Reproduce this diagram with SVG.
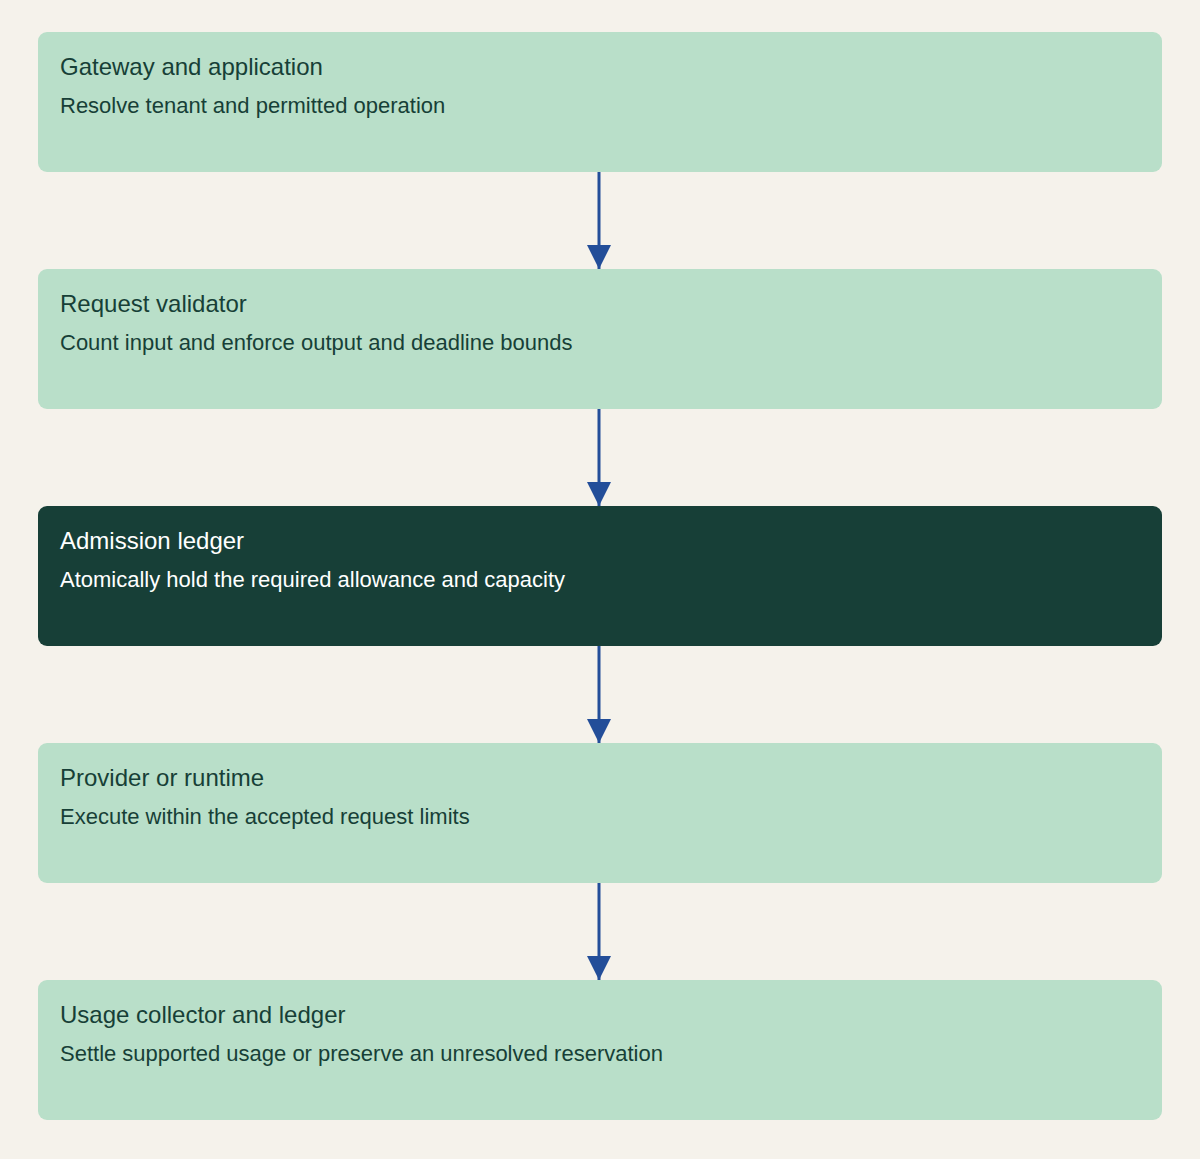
<svg xmlns="http://www.w3.org/2000/svg" width="1200" height="1159" viewBox="0 0 1200 1159">
<style>
.box{fill:#b9dfc9}
.dark{fill:#173f37}
.t{font-family:"Liberation Sans",Arial,sans-serif;font-size:24px;fill:#173f37}
.s{font-family:"Liberation Sans",Arial,sans-serif;font-size:22px;fill:#173f37}
.w{fill:#ffffff}
.c{stroke:#234e99;stroke-width:3;fill:none;marker-end:url(#a)}
</style>
<defs><marker id="a" markerUnits="userSpaceOnUse" markerWidth="26" markerHeight="26" refX="24" refY="12" orient="auto"><path d="M0,0 L24,12 L0,24 Z" fill="#234e99"/></marker></defs>
<rect width="1200" height="1159" fill="#f5f2eb"/>
<g id="connectors">
<path class="c" d="M599,172 V269"/>
<path class="c" d="M599,409 V506"/>
<path class="c" d="M599,646 V743"/>
<path class="c" d="M599,883 V980"/>
</g>
<g id="n1"><rect class="box" x="38" y="32" width="1124" height="140" rx="9"/><text class="t" x="60" y="75">Gateway and application</text><text class="s" x="60" y="113">Resolve tenant and permitted operation</text></g>
<g id="n2"><rect class="box" x="38" y="269" width="1124" height="140" rx="9"/><text class="t" x="60" y="312">Request validator</text><text class="s" x="60" y="350">Count input and enforce output and deadline bounds</text></g>
<g id="n3"><rect class="dark" x="38" y="506" width="1124" height="140" rx="9"/><text class="t w" x="60" y="549">Admission ledger</text><text class="s w" x="60" y="587">Atomically hold the required allowance and capacity</text></g>
<g id="n4"><rect class="box" x="38" y="743" width="1124" height="140" rx="9"/><text class="t" x="60" y="786">Provider or runtime</text><text class="s" x="60" y="824">Execute within the accepted request limits</text></g>
<g id="n5"><rect class="box" x="38" y="980" width="1124" height="140" rx="9"/><text class="t" x="60" y="1023">Usage collector and ledger</text><text class="s" x="60" y="1061">Settle supported usage or preserve an unresolved reservation</text></g>
</svg>
